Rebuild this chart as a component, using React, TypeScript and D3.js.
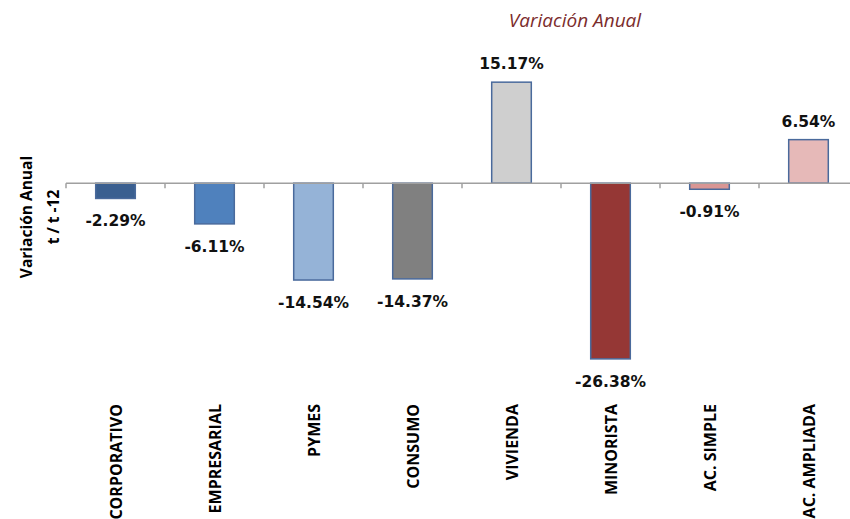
import { useEffect, useRef } from "react";
import * as d3 from "d3";

const categories = ["CORPORATIVO", "EMPRESARIAL", "PYMES", "CONSUMO", "VIVIENDA", "MINORISTA", "AC. SIMPLE", "AC. AMPLIADA"];
const values = [-2.29, -6.11, -14.54, -14.37, 15.17, -26.38, -0.91, 6.54];
const colors = ["#3A5F90", "#4F81BD", "#95B3D7", "#808080", "#CFCFCF", "#953735", "#D99694", "#E6B9B8"];

const App = () => {
  const svgRef = useRef<SVGSVGElement>(null);

  useEffect(() => {
    const width = 850, height = 519;
    const svg = d3.select(svgRef.current);
    svg.selectAll("*").remove();
    svg.attr("width", width).attr("height", height);

    const x = d3.scaleBand<string>()
      .domain(categories)
      .range([66, 858])
      .paddingInner(0.6)
      .paddingOuter(0.3);

    const y = d3.scaleLinear().domain([-30, 20]).range([383, 50]);
    const y0 = y(0);

    // title
    svg.append("text")
      .attr("x", 575).attr("y", 27)
      .attr("text-anchor", "middle")
      .style("font-family", "'Open Sans', sans-serif")
      .style("font-style", "italic")
      .style("font-size", "19px")
      .attr("fill", "#7B2C2C")
      .text("Variación Anual");

    // y axis title
    const yt = svg.append("text")
      .attr("transform", "translate(0,217) rotate(-90)")
      .attr("text-anchor", "middle")
      .style("font-family", "'Open Sans', sans-serif")
      .style("font-weight", "bold")
      .style("font-size", "15.5px")
      .attr("fill", "#000");
    yt.append("tspan").attr("x", 0).attr("y", 32).text("Variación Anual");
    yt.append("tspan").attr("x", 0).attr("y", 59).text("t / t -12");

    // bars
    svg.selectAll("rect.bar")
      .data(values)
      .enter()
      .append("rect")
      .attr("class", "bar")
      .attr("x", (d, i) => x(categories[i])!)
      .attr("y", d => Math.min(y(d), y0))
      .attr("width", x.bandwidth())
      .attr("height", d => Math.abs(y(d) - y0))
      .attr("fill", (d, i) => colors[i])
      .attr("stroke", "#4A6A9C")
      .attr("stroke-width", 1.5);

    // axis line + ticks
    const axis = svg.append("g");
    axis.append("line")
      .attr("x1", 66).attr("x2", 858)
      .attr("y1", y0).attr("y2", y0)
      .attr("stroke", "#A0A0A0").attr("stroke-width", 1.5);
    const step = x.step();
    d3.range(categories.length + 1).forEach(i => {
      const tx = 66 + i * step;
      axis.append("line")
        .attr("x1", tx).attr("x2", tx)
        .attr("y1", y0).attr("y2", y0 + 5)
        .attr("stroke", "#A0A0A0").attr("stroke-width", 1.5);
    });

    // value labels
    svg.selectAll("text.val")
      .data(values)
      .enter()
      .append("text")
      .attr("class", "val")
      .attr("x", (d, i) => x(categories[i])! + x.bandwidth() / 2)
      .attr("y", d => d >= 0 ? y(d) - 13 : y(d) + 28)
      .attr("text-anchor", "middle")
      .style("font-family", "'DejaVu Sans', Verdana, sans-serif")
      .style("font-weight", "bold")
      .style("font-size", "15.5px")
      .attr("fill", "#111")
      .text(d => d.toFixed(2) + "%");

    // category labels
    svg.selectAll("text.cat")
      .data(categories)
      .enter()
      .append("text")
      .attr("class", "cat")
      .attr("transform", d => `translate(${x(d)! + x.bandwidth() / 2 + 6},404) rotate(-90)`)
      .attr("text-anchor", "end")
      .style("font-family", "'Open Sans', sans-serif")
      .style("font-weight", "bold")
      .style("font-size", "16px")
      .attr("fill", "#000")
      .text(d => d);
  }, []);

  return <svg ref={svgRef} style={{ position: "absolute", left: 0, top: 0, background: "#fff" }} />;
};

export default App;
